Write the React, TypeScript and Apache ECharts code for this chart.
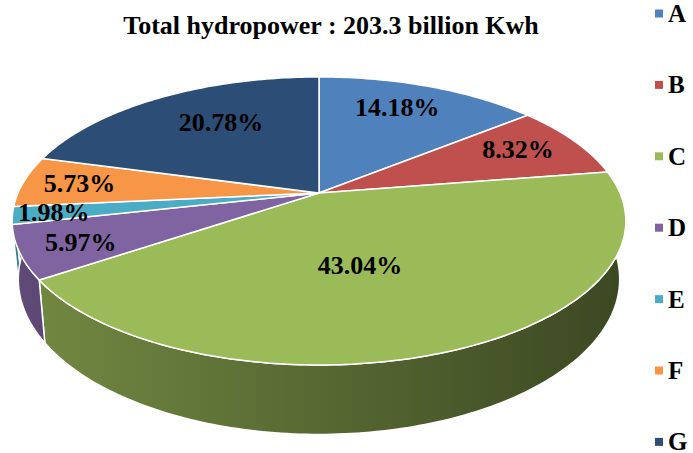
import React, { useEffect, useRef } from "react";
import * as echarts from "echarts";

const categories = ["A", "B", "C", "D", "E", "F", "G"];
const shares = [14.18, 8.32, 43.04, 5.97, 1.98, 5.73, 20.78];
const colors = ["#4F81BD", "#C0504D", "#9BBB59", "#8064A2", "#4BACC6", "#F79646", "#2C4D75"];
const titleText = "Total hydropower : 203.3 billion Kwh";

const FONT = "Liberation Serif, Times New Roman, serif";

// projection of a perspective-tilted pie
const CX = 319;
const CY = 193;
const RX = 301;
const RY = 138.6;
const K = 0.194;
const DEPTH = 56;
const BOTTOM_SCALE = 0.98;

function proj(theta: number, r: number, down: boolean): number[] {
  const u = r * Math.sin(theta);
  const v = r * Math.cos(theta);
  const w = 1 + K * v;
  let x = CX + (RX * u) / w;
  let y = CY - (RY * v) / w;
  if (down) {
    x = CX + (x - CX) * BOTTOM_SCALE;
    y += DEPTH / w;
  }
  return [x, y];
}

function shade(hex: string, f: number): string {
  const n = parseInt(hex.slice(1), 16);
  const r = Math.round(((n >> 16) & 255) * f);
  const g = Math.round(((n >> 8) & 255) * f);
  const b = Math.round((n & 255) * f);
  return `rgb(${r},${g},${b})`;
}

function buildOption() {
  const total = shares.reduce((a, b) => a + b, 0);
  const cum: number[] = [0];
  shares.forEach((s, i) => cum.push(cum[i] + s));

  const series = categories.map((name, i) => ({
    type: "custom",
    name,
    coordinateSystem: "none",
    itemStyle: { color: colors[i] },
    data: [shares[i]],
    renderItem: (_params: any, api: any) => {
      const value = api.value(0);
      const start = (cum[i] / total) * Math.PI * 2;
      const end = ((cum[i] + value) / total) * Math.PI * 2;
      const n = Math.max(4, Math.ceil((end - start) / (Math.PI / 180)));
      const topPts: number[][] = [];
      const botPts: number[][] = [];
      for (let k = 0; k <= n; k++) {
        const th = start + ((end - start) * k) / n;
        topPts.push(proj(th, 1, false));
        botPts.push(proj(th, 1, true));
      }
      const sidePts = topPts.concat(botPts.slice().reverse());
      const facePts = [proj(0, 0, false)].concat(topPts);
      const mid = (start + end) / 2;
      const p = value / total;
      const lr = 0.9 - 0.9 * p;
      const lp = proj(mid, lr, false);
      const lx = CX + (lp[0] - CX) * (1 - 0.8 * p);
      return {
        type: "group",
        children: [
          {
            type: "polygon",
            z2: 1,
            shape: { points: sidePts },
            style: {
              fill: {
                type: "linear",
                x: 13,
                y: 0,
                x2: 627,
                y2: 0,
                global: true,
                colorStops: [
                  { offset: 0, color: shade(colors[i], 0.74) },
                  { offset: 1, color: shade(colors[i], 0.38) },
                ],
              },
              stroke: "#ffffff",
              lineWidth: 1.5,
            },
          },
          {
            type: "polygon",
            z2: 10,
            shape: { points: facePts },
            style: { fill: colors[i], stroke: "#ffffff", lineWidth: 1.5 },
          },
          {
            type: "text",
            z2: 20,
            x: lx,
            y: lp[1],
            style: {
              text: value.toFixed(2) + "%",
              fill: "#000000",
              fontSize: 26,
              fontWeight: "bold",
              fontFamily: FONT,
              align: "center",
              verticalAlign: "middle",
            },
          },
        ],
      };
    },
  }));

  return {
    animation: false,
    color: colors,
    title: {
      text: titleText,
      left: 331,
      top: 12,
      padding: 0,
      textAlign: "center",
      textStyle: { fontSize: 26, fontWeight: "bold", fontFamily: FONT, color: "#000000" },
    },
    legend: {
      data: categories,
      orient: "vertical",
      left: 655,
      top: 1,
      height: 480,
      padding: 0,
      icon: "rect",
      itemWidth: 8,
      itemHeight: 8,
      itemGap: 46.4,
      selectedMode: false,
      textStyle: { fontSize: 25, fontWeight: "bold", fontFamily: FONT, color: "#000000" },
    },
    series,
  };
}

export default function App() {
  const ref = useRef<HTMLDivElement>(null);
  useEffect(() => {
    document.body.style.margin = "0";
    const chart = echarts.init(ref.current as HTMLDivElement, null, { renderer: "svg" });
    chart.setOption(buildOption() as any);
    return () => chart.dispose();
  }, []);
  return <div ref={ref} style={{ width: 693, height: 453 }} />;
}
